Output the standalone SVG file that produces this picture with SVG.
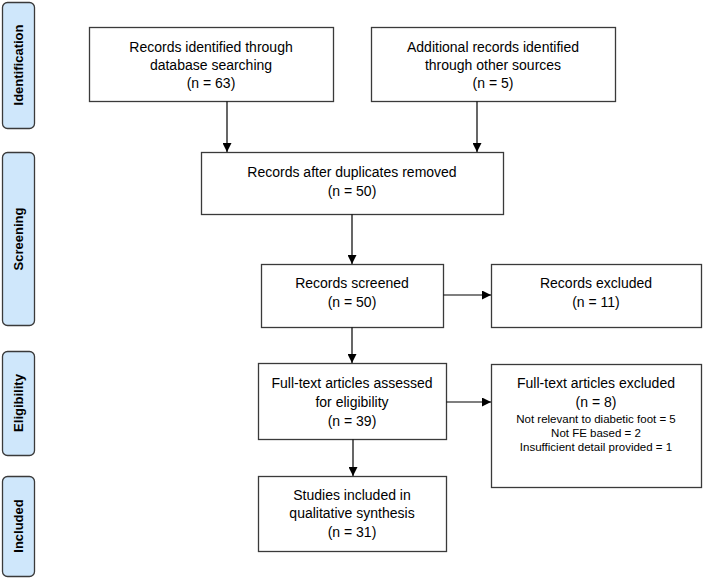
<svg xmlns="http://www.w3.org/2000/svg" width="704" height="579" viewBox="0 0 704 579">
<defs>
<marker id="ah" markerWidth="9" markerHeight="9" refX="9" refY="4.5" orient="auto" markerUnits="userSpaceOnUse">
<path d="M0,0 L9,4.5 L0,9 z" fill="#000"/>
</marker>
<style>
.box{fill:#fff;stroke:#3a3a3a;stroke-width:1.3}
.side{fill:#cfe7fb;stroke:#3a3a3a;stroke-width:1.3}
.t{font-family:"Liberation Sans",Arial,sans-serif;font-size:14px;fill:#000;text-anchor:middle}
.s{font-family:"Liberation Sans",Arial,sans-serif;font-size:11.5px;fill:#000;text-anchor:middle}
.st{font-family:"Liberation Sans",Arial,sans-serif;font-size:13px;font-weight:bold;fill:#000;text-anchor:middle}
.c{stroke:#000;stroke-width:1.2;fill:none;marker-end:url(#ah)}
</style>
</defs>
<rect width="704" height="579" fill="#fff"/>
<g id="side-identification"><rect class="side" x="2.5" y="2.5" width="32" height="126" rx="5"/><text class="st" transform="translate(23,65) rotate(-90)">Identification</text></g>
<g id="side-screening"><rect class="side" x="2.5" y="152.5" width="32" height="173" rx="5"/><text class="st" transform="translate(23,239) rotate(-90)">Screening</text></g>
<g id="side-eligibility"><rect class="side" x="2.5" y="351.5" width="32" height="104" rx="5"/><text class="st" transform="translate(23,403) rotate(-90)">Eligibility</text></g>
<g id="side-included"><rect class="side" x="2.5" y="476.5" width="32" height="100" rx="5"/><text class="st" transform="translate(23,526) rotate(-90)">Included</text></g>

<g id="db"><rect class="box" x="89.5" y="27.5" width="244" height="74"/>
<text class="t" x="211" y="52">Records identified through</text><text class="t" x="211" y="70">database searching</text><text class="t" x="211" y="88">(n = 63)</text></g>
<g id="other"><rect class="box" x="371.5" y="27.5" width="244" height="74"/>
<text class="t" x="493" y="52">Additional records identified</text><text class="t" x="493" y="70">through other sources</text><text class="t" x="493" y="88">(n = 5)</text></g>
<g id="dup"><rect class="box" x="201.5" y="152.5" width="302" height="62"/>
<text class="t" x="352" y="177">Records after duplicates removed</text><text class="t" x="352" y="196">(n = 50)</text></g>
<g id="screened"><rect class="box" x="261.5" y="264.5" width="182" height="63"/>
<text class="t" x="352" y="288">Records screened</text><text class="t" x="352" y="307">(n = 50)</text></g>
<g id="excluded"><rect class="box" x="491.5" y="264.5" width="210" height="63"/>
<text class="t" x="596" y="288">Records excluded</text><text class="t" x="596" y="307">(n = 11)</text></g>
<g id="fulltext"><rect class="box" x="258.5" y="363.5" width="188" height="76"/>
<text class="t" x="352" y="388">Full-text articles assessed</text><text class="t" x="352" y="407">for eligibility</text><text class="t" x="352" y="426">(n = 39)</text></g>
<g id="ftexcluded"><rect class="box" x="491.5" y="364.5" width="210" height="123"/>
<text class="t" x="596" y="388">Full-text articles excluded</text><text class="t" x="596" y="407">(n = 8)</text>
<text class="s" x="596" y="423">Not relevant to diabetic foot = 5</text><text class="s" x="596" y="437">Not FE based = 2</text><text class="s" x="596" y="451">Insufficient detail provided = 1</text></g>
<g id="included"><rect class="box" x="258.5" y="476.5" width="188" height="75"/>
<text class="t" x="352" y="500">Studies included in</text><text class="t" x="352" y="518">qualitative synthesis</text><text class="t" x="352" y="537">(n = 31)</text></g>

<g id="connectors">
<line class="c" x1="227" y1="101.5" x2="227" y2="152"/>
<line class="c" x1="477" y1="101.5" x2="477" y2="152"/>
<line class="c" x1="352" y1="214.5" x2="352" y2="264"/>
<line class="c" x1="443.5" y1="295" x2="491" y2="295"/>
<line class="c" x1="352" y1="327.5" x2="352" y2="363"/>
<line class="c" x1="446.5" y1="402" x2="491" y2="402"/>
<line class="c" x1="353" y1="439.5" x2="353" y2="476"/>
</g>
</svg>
